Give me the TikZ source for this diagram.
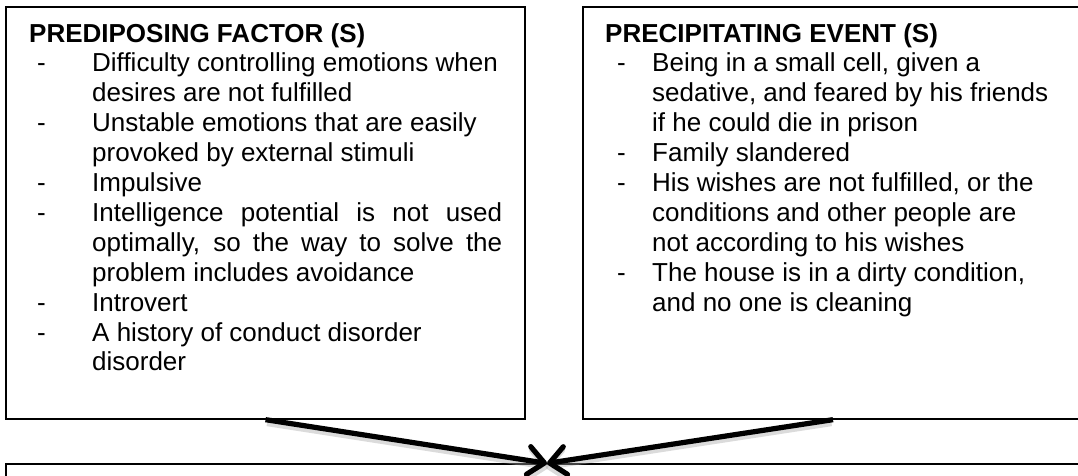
\documentclass[tikz,border=0pt]{standalone}
\usepackage{fontspec}
\setmainfont{Liberation Sans}
\usetikzlibrary{arrows.meta}
\newcommand\dashL{\makebox[63pt][l]{\hspace*{8pt}-}}
\newcommand\contL{\hspace*{63pt}}
\newcommand\dashR{\makebox[47pt][l]{\hspace*{12pt}-}}
\newcommand\contR{\hspace*{47pt}}
\tikzset{
  box/.style={draw=black, line width=1.3pt, inner sep=0pt},
  txt/.style={anchor=base west, inner sep=0pt},
  arr/.style={line width=5.2pt, -{Straight Barb[length=16pt,width=28pt,line cap=round,line join=round]}},
  shadowarr/.style={arr, draw=black!35, opacity=0.4, line width=6pt}
}
\begin{document}
\begin{tikzpicture}[x=1pt,y=-1pt]
\useasboundingbox (0,0) rectangle (1078,475);
\clip (0,0) rectangle (1078,475);
\fill[white] (0,0) rectangle (1078,475);
% boxes
\node[box, minimum width=519pt, minimum height=412pt] (lbox) at (265.5,213) {};
\node[box, minimum width=500pt, minimum height=412pt] (rbox) at (833,213) {};
\node[box, minimum width=1082pt, minimum height=60pt] (bbox) at (547,494) {};
% texts
\node[txt] (ltext) at (29,42) {\parbox[t]{495pt}{\fontsize{26}{29.9}\selectfont
\textbf{PREDIPOSING FACTOR (S)}\\
\dashL Difficulty controlling emotions when\\
\contL desires are not fulfilled\\
\dashL Unstable emotions that are easily\\
\contL provoked by external stimuli\\
\dashL Impulsive\\
\dashL \makebox[410pt][s]{Intelligence potential is not used}\\
\contL \makebox[410pt][s]{optimally, so the way to solve the}\\
\contL problem includes avoidance\\
\dashL Introvert\\
\dashL A history of conduct disorder\\
\contL disorder}};
\node[txt] (rtext) at (605,42) {\parbox[t]{470pt}{\fontsize{26}{29.9}\selectfont
\textbf{PRECIPITATING EVENT (S)}\\
\dashR Being in a small cell, given a\\
\contR sedative, and feared by his friends\\
\contR if he could die in prison\\
\dashR Family slandered\\
\dashR His wishes are not fulfilled, or the\\
\contR conditions and other people are\\
\contR not according to his wishes\\
\dashR The house is in a dirty condition,\\
\contR and no one is cleaning}};
% arrow shadows
\draw[shadowarr, transform canvas={shift={(1.5pt,-3.5pt)}}] (lbox.south) -- (bbox.north);
\draw[shadowarr, transform canvas={shift={(-1.5pt,-3.5pt)}}] (rbox.south) -- (bbox.north);
% arrows
\draw[arr] (lbox.south) -- (bbox.north);
\draw[arr] (rbox.south) -- (bbox.north);
\end{tikzpicture}
\end{document}
